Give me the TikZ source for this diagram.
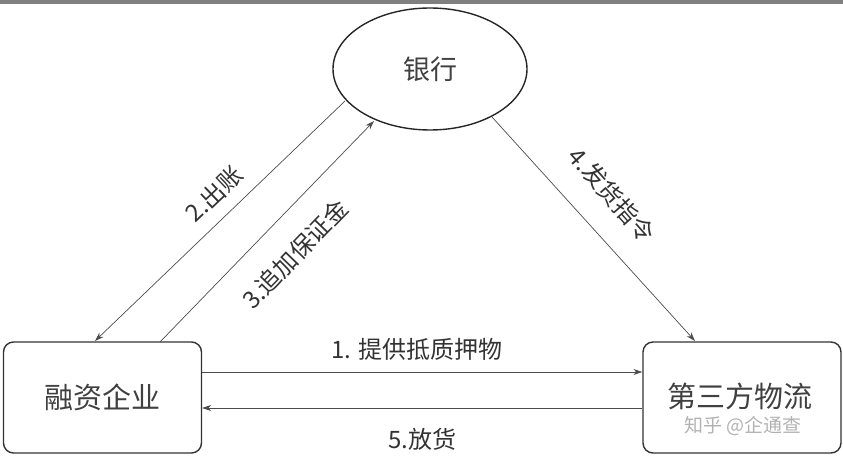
\documentclass[tikz,border=0pt]{standalone}
\usepackage{fontspec}
\newfontfamily\cjk{Noto Sans CJK SC}
\usetikzlibrary{arrows.meta,shapes.geometric}
\begin{document}
\begin{tikzpicture}[x=1pt,y=-1pt,
  every node/.style={font=\cjk},
  boxnode/.style={draw=black!80,line width=1.4pt,rounded corners=10pt,minimum width=198pt,minimum height=111pt,inner sep=0pt},
  conn/.style={draw=black!70,line width=0.7pt,-{Stealth[length=9pt,width=6pt]}},
  lab/.style={font=\cjk\fontsize{24}{26}\selectfont,text=black!80,inner sep=0pt}]
\useasboundingbox (0,0) rectangle (843,462);
\fill[black!50] (0,0) rectangle (843,4);
\node[draw=black!85,line width=1.4pt,ellipse,minimum width=194pt,minimum height=122pt,inner sep=0pt,font=\cjk\fontsize{27}{30}\selectfont,text=black!75] (bank) at (430,69) {银行};
\node[boxnode,font=\cjk\fontsize{29}{32}\selectfont,text=black!75] (firm) at (102.5,397.5) {融资企业};
\node[boxnode,font=\cjk\fontsize{29}{32}\selectfont,text=black!75] (log) at (742,397.5) {};
\node[font=\cjk\fontsize{29}{32}\selectfont,text=black!75,inner sep=0pt] (logt) at (740,396) {第三方物流};
\node[font=\cjk\fontsize{19}{21}\selectfont,text=black!30,inner sep=0pt] (wm) at (743,426) {知乎 @企通查};
% arrows
\coordinate (b2) at (345,101);
\coordinate (f2) at (95,341);
\coordinate (f3) at (160,342);
\coordinate (b3) at (374,121);
\coordinate (b4) at (492,117);
\coordinate (l4) at (695,341);
\draw[conn] (b2) -- (f2);
\draw[conn] (f3) -- (b3);
\draw[conn] (b4) -- (l4);
\draw[conn] (firm.east |- 0,372) -- (log.west |- 0,372);
\draw[conn] (log.west |- 0,408) -- (firm.east |- 0,408);
% labels
\node[lab,rotate=43.6] (l2) at (214,194) {2.出账};
\node[lab,rotate=46] (l3) at (295,254) {3.追加保证金};
\node[lab,rotate=-48.6] (l4t) at (612,195) {4.发货指令};
\node[lab] (l1) at (417,349) {1. 提供抵质押物};
\node[lab] (l5) at (422,439) {5.放货};
\end{tikzpicture}
\end{document}
